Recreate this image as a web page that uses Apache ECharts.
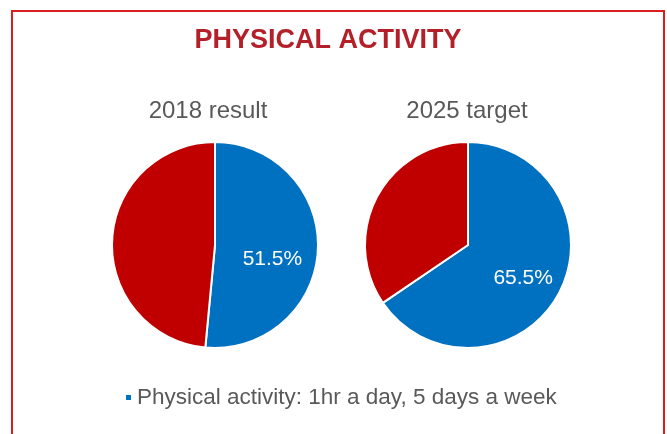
<!DOCTYPE html>
<html>
<head>
<meta charset="utf-8">
<script src="https://cdn.jsdelivr.net/npm/echarts@6/dist/echarts.min.js"></script>
<style>
html,body{margin:0;padding:0;background:#fff;}
#main{width:667px;height:434px;}
</style>
</head>
<body>
<div id="main"></div>
<script>
const chartTitle = 'PHYSICAL ACTIVITY';
const pieTitles = ['2018 result', '2025 target'];
const seriesName = 'Physical activity: 1hr a day, 5 days a week';
const otherName = 'Other';
const activityValues = [51.5, 65.5];
const otherValues = [48.5, 34.5];

const centersX = [215, 468];
const titleX = [203, 462];
const labelShift = [[3, 12], [7, 8]];
const font = 'Liberation Sans, Arial, sans-serif';
const chart = echarts.init(document.getElementById('main'));
const series = pieTitles.map((t, i) => ({
  type: 'pie',
  name: t,
  center: [centersX[i], 245],
  radius: ['0%', 103],
  startAngle: 90,
  clockwise: true,
  avoidLabelOverlap: false,
  itemStyle: { borderColor: '#ffffff', borderWidth: 2 },
  label: {
    show: true,
    position: 'inside',
    formatter: p => p.dataIndex === 0 ? p.value.toFixed(1) + '%' : '',
    color: '#ffffff',
    fontSize: 21,
    fontFamily: font
  },
  labelLayout: { dx: labelShift[i][0], dy: labelShift[i][1] },
  labelLine: { show: false },
  emphasis: { disabled: true },
  data: [
    { name: seriesName, value: activityValues[i], itemStyle: { color: '#0070C0' } },
    { name: otherName, value: otherValues[i], itemStyle: { color: '#C00000' } }
  ]
}));

chart.setOption({
  animation: false,
  title: [
    { text: chartTitle, left: 323, top: 22, textAlign: 'center',
      textStyle: { color: '#B3202A', fontSize: 27, fontWeight: 'bold', fontFamily: font } },
    { text: pieTitles[0], left: titleX[0], top: 94, textAlign: 'center',
      textStyle: { color: '#595959', fontSize: 24, fontWeight: 'normal', fontFamily: font } },
    { text: pieTitles[1], left: titleX[1], top: 94, textAlign: 'center',
      textStyle: { color: '#595959', fontSize: 24, fontWeight: 'normal', fontFamily: font } }
  ],
  legend: {
    data: [seriesName],
    top: 381,
    left: 119,
    icon: 'rect',
    itemWidth: 7,
    itemHeight: 7,
    itemGap: 6,
    textStyle: { color: '#595959', fontSize: 22.5, fontFamily: font }
  },
  graphic: [{
    type: 'rect',
    shape: { x: 12, y: 11, width: 652, height: 440 },
    style: { fill: 'none', stroke: '#D81E1E', lineWidth: 2 },
    silent: true
  }],
  series: series
});
</script>
</body>
</html>
